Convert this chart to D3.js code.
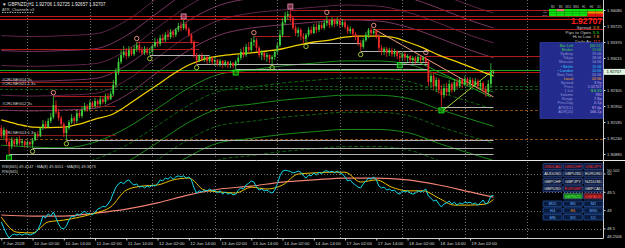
<!DOCTYPE html>
<html>
<head>
<meta charset="utf-8">
<script src="https://cdn.jsdelivr.net/npm/d3@7"></script>
<style>
  html, body { margin: 0; padding: 0; background: #000; }
  svg { display: block; font-family: "Liberation Sans", Arial, sans-serif; }
</style>
</head>
<body>
<div id="chart"></div>
<script>
// ---------- data ----------
const titleText = "\u25BC GBPNZD,H1  1.92706 1.92725 1.92657 1.92707";
const subTitleText = "ATR_Channels v3";
const rsiTitleText = "RSI(665) 49.4147  ~MA(8) 49.3051  ~MA(85) 49.3673";
const rsiSubText = "RSI(665)";

const timeLabels = ["7 Jun 2019", "10 Jun 02:00", "10 Jun 14:00", "11 Jun 02:00", "11 Jun 14:00",
  "12 Jun 02:00", "12 Jun 14:00", "13 Jun 02:00", "13 Jun 14:00", "14 Jun 02:00", "14 Jun 14:00",
  "17 Jun 02:00", "17 Jun 14:00", "18 Jun 02:00", "18 Jun 14:00", "19 Jun 02:00"];
const timeLabelBars = [0, 12, 24, 36, 48, 60, 72, 84, 96, 108, 120, 132, 144, 156, 168, 180];
const midnightBars = [10, 34, 58, 82, 106, 130, 154, 178, 202];

const priceTicks = [1.94080, 1.93725, 1.93370, 1.93015, 1.92660, 1.92305, 1.91950, 1.91595, 1.91240, 1.90885];
const rsiTicks = [50.102, 50, 49.5, 49, 48.5, 48.2506];
const rsiTickLabels = ["50.102", "50", "49.5", "49", "48.5", "48.2506"];
const rsiGrid = [50, 49.5, 49, 48.5];

const opens = [1.9146,1.9130,1.9142,1.9115,1.9106,1.9119,1.9110,1.9122,1.9113,1.9117,
1.9108,1.9115,1.9110,1.9119,1.9133,1.9128,1.9146,1.9155,1.9148,1.9162,
1.9170,1.9197,1.9182,1.9168,1.9155,1.9135,1.9146,1.9159,1.9168,1.9162,
1.9179,1.9173,1.9186,1.9195,1.9188,1.9202,1.9195,1.9206,1.9199,1.9210,
1.9204,1.9215,1.9210,1.9222,1.9242,1.9270,1.9293,1.9308,1.9315,1.9306,
1.9319,1.9310,1.9322,1.9330,1.9319,1.9313,1.9322,1.9313,1.9315,1.9328,
1.9337,1.9333,1.9346,1.9341,1.9353,1.9348,1.9359,1.9353,1.9364,1.9372,
1.9368,1.9377,1.9366,1.9353,1.9337,1.9308,1.9297,1.9306,1.9299,1.9304,
1.9295,1.9302,1.9293,1.9297,1.9288,1.9295,1.9288,1.9293,1.9286,1.9290,
1.9284,1.9293,1.9302,1.9315,1.9308,1.9326,1.9319,1.9337,1.9341,1.9324,
1.9308,1.9313,1.9304,1.9308,1.9299,1.9304,1.9315,1.9330,1.9353,1.9381,
1.9395,1.9399,1.9390,1.9368,1.9357,1.9364,1.9350,1.9344,1.9353,1.9364,
1.9357,1.9370,1.9364,1.9375,1.9368,1.9379,1.9384,1.9375,1.9386,1.9377,
1.9384,1.9375,1.9381,1.9370,1.9361,1.9366,1.9355,1.9348,1.9335,1.9326,
1.9341,1.9353,1.9364,1.9357,1.9361,1.9350,1.9324,1.9315,1.9322,1.9313,
1.9319,1.9310,1.9317,1.9306,1.9302,1.9310,1.9302,1.9306,1.9297,1.9302,
1.9295,1.9304,1.9297,1.9302,1.9293,1.9248,1.9262,1.9239,1.9253,1.9230,
1.9219,1.9235,1.9226,1.9244,1.9230,1.9248,1.9239,1.9253,1.9244,1.9255,
1.9246,1.9253,1.9242,1.9250,1.9239,1.9246,1.9233,1.9226,1.9244,1.92706];

const highs = [1.9153,1.9148,1.9144,1.9124,1.9126,1.9124,1.9126,1.9128,1.9122,1.9119,
1.9119,1.9117,1.9124,1.9137,1.9139,1.9148,1.9164,1.9162,1.9168,1.9179,
1.9217,1.9208,1.9190,1.9173,1.9159,1.9150,1.9164,1.9177,1.9173,1.9186,
1.9186,1.9193,1.9202,1.9199,1.9208,1.9206,1.9213,1.9210,1.9217,1.9215,
1.9222,1.9224,1.9228,1.9253,1.9279,1.9302,1.9319,1.9328,1.9324,1.9328,
1.9326,1.9330,1.9337,1.9335,1.9326,1.9328,1.9326,1.9324,1.9333,1.9346,
1.9344,1.9353,1.9355,1.9359,1.9364,1.9366,1.9364,1.9368,1.9379,1.9381,
1.9386,1.9381,1.9370,1.9357,1.9341,1.9313,1.9310,1.9313,1.9308,1.9306,
1.9306,1.9304,1.9304,1.9299,1.9299,1.9297,1.9297,1.9295,1.9295,1.9293,
1.9297,1.9308,1.9322,1.9326,1.9333,1.9337,1.9346,1.9350,1.9346,1.9328,
1.9319,1.9315,1.9313,1.9310,1.9308,1.9319,1.9337,1.9364,1.9390,1.9404,
1.9406,1.9408,1.9395,1.9375,1.9370,1.9368,1.9357,1.9357,1.9370,1.9372,
1.9377,1.9379,1.9381,1.9381,1.9386,1.9395,1.9388,1.9392,1.9390,1.9392,
1.9388,1.9388,1.9386,1.9375,1.9372,1.9368,1.9359,1.9353,1.9341,1.9346,
1.9359,1.9368,1.9370,1.9366,1.9364,1.9355,1.9330,1.9326,1.9326,1.9324,
1.9324,1.9322,1.9319,1.9313,1.9315,1.9315,1.9310,1.9308,1.9306,1.9306,
1.9308,1.9308,1.9306,1.9306,1.9297,1.9268,1.9270,1.9259,1.9257,1.9242,
1.9244,1.9246,1.9253,1.9248,1.9255,1.9257,1.9259,1.9257,1.9262,1.9259,
1.9259,1.9257,1.9257,1.9255,1.9253,1.9250,1.9239,1.9253,1.9290,1.92725];

const lows = [1.9124,1.9119,1.9108,1.9088,1.9099,1.9104,1.9106,1.9108,1.9104,1.9102,
1.9104,1.9106,1.9102,1.9117,1.9124,1.9126,1.9142,1.9144,1.9146,1.9157,
1.9166,1.9177,1.9162,1.9150,1.9126,1.9119,1.9142,1.9155,1.9155,1.9157,
1.9168,1.9168,1.9182,1.9182,1.9184,1.9190,1.9190,1.9193,1.9195,1.9199,
1.9199,1.9206,1.9208,1.9217,1.9235,1.9264,1.9288,1.9302,1.9299,1.9302,
1.9306,1.9306,1.9315,1.9313,1.9308,1.9308,1.9308,1.9308,1.9310,1.9324,
1.9326,1.9328,1.9335,1.9337,1.9341,1.9344,1.9346,1.9348,1.9359,1.9361,
1.9364,1.9361,1.9348,1.9333,1.9302,1.9288,1.9293,1.9295,1.9293,1.9288,
1.9290,1.9286,1.9284,1.9284,1.9282,1.9279,1.9282,1.9279,1.9279,1.9279,
1.9277,1.9288,1.9297,1.9302,1.9304,1.9315,1.9315,1.9328,1.9317,1.9302,
1.9297,1.9297,1.9293,1.9290,1.9288,1.9297,1.9310,1.9326,1.9348,1.9375,
1.9386,1.9381,1.9364,1.9350,1.9348,1.9341,1.9333,1.9335,1.9348,1.9353,
1.9355,1.9357,1.9359,1.9364,1.9364,1.9372,1.9368,1.9370,1.9370,1.9372,
1.9368,1.9370,1.9366,1.9355,1.9355,1.9348,1.9341,1.9328,1.9317,1.9322,
1.9337,1.9346,1.9350,1.9353,1.9344,1.9315,1.9308,1.9308,1.9304,1.9306,
1.9304,1.9304,1.9299,1.9293,1.9297,1.9295,1.9293,1.9290,1.9288,1.9288,
1.9290,1.9290,1.9293,1.9288,1.9239,1.9235,1.9230,1.9226,1.9222,1.9193,
1.9213,1.9217,1.9219,1.9224,1.9226,1.9233,1.9235,1.9235,1.9239,1.9239,
1.9237,1.9235,1.9237,1.9233,1.9230,1.9224,1.9215,1.9217,1.9235,1.92657];

const closes = [1.9130,1.9142,1.9115,1.9106,1.9119,1.9110,1.9122,1.9113,1.9117,1.9108,
1.9115,1.9110,1.9119,1.9133,1.9128,1.9146,1.9155,1.9148,1.9162,1.9170,
1.9197,1.9182,1.9168,1.9155,1.9135,1.9146,1.9159,1.9168,1.9162,1.9179,
1.9173,1.9186,1.9195,1.9188,1.9202,1.9195,1.9206,1.9199,1.9210,1.9204,
1.9215,1.9210,1.9222,1.9242,1.9270,1.9293,1.9308,1.9315,1.9306,1.9319,
1.9310,1.9322,1.9330,1.9319,1.9313,1.9322,1.9313,1.9315,1.9328,1.9337,
1.9333,1.9346,1.9341,1.9353,1.9348,1.9359,1.9353,1.9364,1.9372,1.9368,
1.9377,1.9366,1.9353,1.9337,1.9308,1.9297,1.9306,1.9299,1.9304,1.9295,
1.9302,1.9293,1.9297,1.9288,1.9295,1.9288,1.9293,1.9286,1.9290,1.9284,
1.9293,1.9302,1.9315,1.9308,1.9326,1.9319,1.9337,1.9341,1.9324,1.9308,
1.9313,1.9304,1.9308,1.9299,1.9304,1.9315,1.9330,1.9353,1.9381,1.9395,
1.9399,1.9390,1.9368,1.9357,1.9364,1.9350,1.9344,1.9353,1.9364,1.9357,
1.9370,1.9364,1.9375,1.9368,1.9379,1.9384,1.9375,1.9386,1.9377,1.9384,
1.9375,1.9381,1.9370,1.9361,1.9366,1.9355,1.9348,1.9335,1.9326,1.9341,
1.9353,1.9364,1.9357,1.9361,1.9350,1.9324,1.9315,1.9322,1.9313,1.9319,
1.9310,1.9317,1.9306,1.9302,1.9310,1.9302,1.9306,1.9297,1.9302,1.9295,
1.9304,1.9297,1.9302,1.9293,1.9248,1.9262,1.9239,1.9253,1.9230,1.9219,
1.9235,1.9226,1.9244,1.9230,1.9248,1.9239,1.9253,1.9244,1.9255,1.9246,
1.9253,1.9242,1.9250,1.9239,1.9246,1.9233,1.9226,1.9244,1.9270,1.92707];

// moving average on price, sampled every 6 bars
const maBars = [0,6,12,18,24,30,36,42,48,54,60,66,72,78,84,90,96,102,108,114,120,126,132,138,144,150,156,162,168,174,180,186,189];
const priceMA = [1.9164,1.9155,1.9148,1.9147,1.9148,1.9155,1.9166,1.9175,1.9195,1.9219,1.9242,1.9266,1.9286,1.9299,1.9306,1.9310,1.9313,1.9317,1.9322,1.9330,1.9337,1.9341,1.9348,1.9350,1.9350,1.9348,1.9337,1.9324,1.9308,1.9295,1.9282,1.9268,1.9262];

// channel bands, sampled every 12 bars
const bandBars = [0,12,24,36,48,60,72,84,96,108,120,132,144,156,168,180,189];
const upperBandBase = [1.9186,1.9184,1.9186,1.9190,1.9219,1.9270,1.9319,1.9353,1.9368,1.9375,1.9381,1.9386,1.9384,1.9370,1.9346,1.9319,1.9302];
const lowerBandBase = [1.9108,1.9104,1.9102,1.9115,1.9146,1.9190,1.9235,1.9266,1.9275,1.9284,1.9290,1.9295,1.9295,1.9288,1.9264,1.9242,1.9226];
const upperBandStep = 0.0033;
const lowerBandStep = 0.0038;
const bandCount = 6;

// swing points (end = last bar the level is drawn to; "edge" runs it to the price scale)
const swingHighBars = [20, 52, 70, 97, 111, 125, 143, 163];
const swingHighSquare = [false, false, true, false, true, false, false, false];
const swingHighEnd = [43, 76, null, 111, "edge", "edge", "edge", "edge"];
const swingLowBars = [3, 12, 25, 57, 75, 90, 104, 117, 138, 153, 169];
const swingLowSquare = [true, false, false, false, false, true, false, false, false, true, true];
const swingLowEnd = [189, 189, 189, 80, 164, 164, 164, 138, 164, 164, 189];

// horizontal levels
const resistanceLevels = [1.9395, 1.9388];
const partialLevel = {price: 1.9321, from: 0, to: 76};
const pivotLevels = [1.9186, 1.9122];
const greenDashLevels = [1.9239, 1.9232];
const askPrice = 1.92746;
const bidPrice = 1.92707;

// trend lines [bar, price] -> [bar, price]
const trendSalmon = [[143, 1.9366], [189, 1.9215]];
const trendLime = [[169, 1.9182], [189, 1.9275]];
const trendGreen = [[152, 1.9315], [188, 1.9215]];

// object labels on the left
const objectLabels = ["#CRLNEG14 3s", "#CRLNEG21 1.3s", "#CRLNEG12 3s", "#CRLNEG13 1.3s"];
const objectLabelPrices = [1.9248, 1.9239, 1.9195, 1.9130];

// RSI pane
const rsi = [48.69,48.52,48.36,48.25,48.33,48.36,48.33,48.36,48.33,48.36,
48.36,48.33,48.36,48.39,48.47,48.63,48.85,48.80,48.91,48.85,
48.96,48.80,48.63,48.52,48.50,48.58,48.74,48.85,48.82,48.91,
48.88,48.93,48.99,48.91,48.93,48.88,48.96,49.04,49.07,49.12,
49.10,49.18,49.29,49.48,49.64,49.73,49.78,49.73,49.81,49.84,
49.75,49.70,49.73,49.64,49.67,49.62,49.67,49.64,49.70,49.67,
49.73,49.84,49.81,49.89,49.86,49.92,49.86,49.92,49.95,49.92,
49.95,49.89,49.92,49.84,49.62,49.48,49.54,49.51,49.56,49.54,
49.59,49.54,49.56,49.48,49.54,49.45,49.51,49.45,49.48,49.43,
49.45,49.56,49.62,49.59,49.70,49.75,49.81,49.78,49.64,49.56,
49.59,49.54,49.56,49.51,49.48,49.56,49.73,49.95,50.08,50.102,
50.09,50.07,50.03,50.05,50.08,50.05,49.95,49.89,49.97,49.95,
50.03,49.97,50.05,50.00,50.08,50.09,50.05,50.08,50.03,50.08,
50.03,50.00,49.92,49.81,49.84,49.75,49.70,49.64,49.62,49.73,
49.81,49.89,49.86,49.92,49.84,49.67,49.62,49.64,49.56,49.59,
49.54,49.56,49.48,49.45,49.54,49.51,49.54,49.48,49.45,49.48,
49.54,49.51,49.54,49.59,49.40,49.34,49.26,49.29,49.18,49.10,
49.18,49.21,49.26,49.18,49.23,49.15,49.21,49.18,49.23,49.21,
49.23,49.18,49.21,49.15,49.21,49.29,49.18,49.23,49.40,49.4147];
const rsiFastMA = [48.82,48.41,48.39,48.69,48.74,48.82,48.93,49.10,49.56,49.67,49.70,49.84,49.89,49.56,49.51,49.48,49.64,49.59,49.70,50.00,50.03,50.05,50.05,49.78,49.84,49.64,49.54,49.54,49.34,49.15,49.15,49.18,49.3051];
const rsiSlowMA = [48.88,48.85,48.85,48.93,49.04,49.21,49.43,49.59,49.67,49.78,49.84,49.89,49.89,49.84,49.70,49.51,49.3673];

// info panel
const tfHeader = ["M1", "M5", "M15", "M30", "H1", "H4", "D1"];
const signalRows = ["MA", "RSI", "STO"];
const signalState = [
  ["up", "dn", "up", "up", "up", "up", "up"],
  ["up", "up", "up", "up", "up", "mid", "mid"],
  ["up", "up", "up", "up", "up", "dn", "dn"]];
const bigPrice = "1.92707";
const statLabels = ["Spread", "Pips to Open", "Hi to Low", "Daily Av"];
const statValues = ["3.9", "5.5", "7.8", "117"];
const panelLabels = ["Bar Left", "Broker", "Sydney", "Tokyo", "Moscow", "\u2022 Berlin", "\u2022 London",
  "New York", "Local", "Spread", "Price", "1 Lot", "Volume", "Range", "Prev.Day", "ATR(D1)", "ADR(20)"];
const panelValues = ["[00:51]", "12:06", "19:06", "18:06", "14:06", "11:06", "10:06",
  "05:06", "02:06", "3.9p", "1.92707", "$ 6.55", "780", "7.8p", "0.1p", "87.6p", "166.1p"];
const pairButtons = ["USDCAD", "USDCHF", "USDJPY", "AUDUSD", "GBPUSD", "EURUSD",
  "GBPCHF", "GBPJPY", "NZDUSD", "GBPUSD", "EURGBP", "GBPCAD", "", "GBPNZD", "GBPAUD"];
const pairState = ["neg", "neg", "neg", "", "", "", "", "", "", "", "neg", "", "none", "cur", "negbg"];
const tfButtons = ["M15", "M5", "M1", "H4", "H1", "M30", "MN", "W1", "D1"];
const currentTf = "H1";

// ---------- drawing ----------
const W = 625, H = 248;
const plotRight = 603;
const svg = d3.select("#chart").append("svg")
  .attr("width", W).attr("height", H)
  .style("background", "#000");

const x = d3.scaleLinear().domain([0, 189]).range([1.3, 493.5]);
const y = d3.scaleLinear().domain([1.90885, 1.94080]).range([154, 10]);
const yr = d3.scaleLinear().domain([48.2506, 50.102]).range([238, 170.3]);

const defs = svg.append("defs");
defs.append("clipPath").attr("id", "clipMain").append("rect")
  .attr("x", 0).attr("y", 0).attr("width", plotRight).attr("height", 160);
defs.append("clipPath").attr("id", "clipRsi").append("rect")
  .attr("x", 0).attr("y", 162).attr("width", plotRight).attr("height", 76);

const main = svg.append("g").attr("clip-path", "url(#clipMain)");
const sub = svg.append("g").attr("clip-path", "url(#clipRsi)");

// vertical grid
[[0, 159], [162, 238]].forEach(([a, b]) => {
  svg.append("g").selectAll("line").data(midnightBars).join("line")
    .attr("x1", d => Math.round(x(d)) + 0.5).attr("x2", d => Math.round(x(d)) + 0.5)
    .attr("y1", a).attr("y2", b)
    .attr("stroke", "#6e6e6e").attr("stroke-width", 1).attr("stroke-dasharray", "1,2");
});
sub.selectAll("line.hg").data(rsiGrid).join("line")
  .attr("x1", 0).attr("x2", plotRight)
  .attr("y1", d => Math.round(yr(d)) + 0.5).attr("y2", d => Math.round(yr(d)) + 0.5)
  .attr("stroke", "#6e6e6e").attr("stroke-dasharray", "1,2");

const hline = (g, price, x1, x2, color, dash, width) => g.append("line")
  .attr("x1", x1).attr("x2", x2)
  .attr("y1", Math.round(y(price)) + 0.5).attr("y2", Math.round(y(price)) + 0.5)
  .attr("stroke", color).attr("stroke-width", width || 1)
  .attr("stroke-dasharray", dash || null);

// pivot style dashed levels
pivotLevels.forEach(p => hline(main, p, 0, plotRight, "#8a4a10", "3,2"));
greenDashLevels.forEach(p => hline(main, p, 0, plotRight, "#0f5a0f", "3,2"));

// channel bands
const bandLine = d3.line().x(d => x(d[0])).y(d => y(d[1])).curve(d3.curveMonotoneX);
for (let k = 0; k < bandCount; k++) {
  main.append("path")
    .attr("d", bandLine(bandBars.map((b, j) => [b, upperBandBase[j] + k * upperBandStep])))
    .attr("fill", "none").attr("stroke", k % 2 ? "#5e2448" : "#7a3562").attr("stroke-width", 1);
  main.append("path")
    .attr("d", bandLine(bandBars.map((b, j) => [b, lowerBandBase[j] - k * lowerBandStep])))
    .attr("fill", "none").attr("stroke", k % 2 ? "#116011" : "#1a8a1a").attr("stroke-width", 1)
    .attr("stroke-dasharray", k % 2 ? "4,2" : null);
}

// resistance / swing levels
resistanceLevels.forEach(p => hline(main, p, 0, plotRight, "#c81414"));
hline(main, partialLevel.price, x(partialLevel.from), x(partialLevel.to), "#b01818");
swingHighBars.forEach((b, i) => {
  const end = swingHighEnd[i];
  if (end !== null) hline(main, highs[b], x(b), end === "edge" ? plotRight : x(end), "#b01a1a");
});
swingLowBars.forEach((b, i) => hline(main, lows[b], x(b), x(swingLowEnd[i]), "#b4b4b4"));

// bid / ask
hline(main, askPrice, 0, plotRight, "#1faa1f");
hline(main, bidPrice, 0, plotRight, "#c01010");

// left object labels with short red lines
objectLabels.forEach((t, i) => {
  hline(main, objectLabelPrices[i], 0, x(44), "#8a1a1a");
  main.append("text").attr("x", 2).attr("y", y(objectLabelPrices[i]) - 1)
    .attr("font-size", 4.2).attr("fill", "#d8d8d8").text(t);
});

// moving average
main.append("path")
  .attr("d", bandLine(maBars.map((b, j) => [b, priceMA[j]])))
  .attr("fill", "none").attr("stroke", "#f2d000").attr("stroke-width", 1.3);

// trend lines
[[trendSalmon, "#f0a080"], [trendLime, "#a8d830"], [trendGreen, "#22a822"]].forEach(([t, c]) => {
  main.append("line")
    .attr("x1", x(t[0][0])).attr("y1", y(t[0][1]))
    .attr("x2", x(t[1][0])).attr("y2", y(t[1][1]))
    .attr("stroke", c).attr("stroke-width", 1);
});

// candles
const bars = d3.range(closes.length);
const upColor = "#3ed23e", downColor = "#f02828";
const cg = main.append("g");
cg.selectAll("line").data(bars).join("line")
  .attr("x1", i => x(i)).attr("x2", i => x(i))
  .attr("y1", i => y(highs[i])).attr("y2", i => y(lows[i]))
  .attr("stroke", i => closes[i] >= opens[i] ? upColor : downColor)
  .attr("stroke-width", 0.8);
cg.selectAll("rect").data(bars).join("rect")
  .attr("x", i => x(i) - 0.9).attr("width", 1.8)
  .attr("y", i => y(Math.max(opens[i], closes[i])))
  .attr("height", i => Math.max(0.7, Math.abs(y(opens[i]) - y(closes[i]))))
  .attr("fill", i => closes[i] >= opens[i] ? upColor : downColor);

// swing markers
swingHighBars.forEach((b, i) => {
  const cx = x(b), cy = y(highs[b]) - 3.5;
  if (swingHighSquare[i]) {
    main.append("rect").attr("x", cx - 2.5).attr("y", cy - 2.5).attr("width", 5).attr("height", 5)
      .attr("fill", "rgba(200,90,130,0.55)").attr("stroke", "#f090b0").attr("stroke-width", 0.8);
  } else {
    main.append("circle").attr("cx", cx).attr("cy", cy).attr("r", 2.2)
      .attr("fill", "none").attr("stroke", "#ff9a8a").attr("stroke-width", 0.9);
  }
});
swingLowBars.forEach((b, i) => {
  const cx = x(b), cy = y(lows[b]) + 3.5;
  if (swingLowSquare[i]) {
    main.append("rect").attr("x", cx - 2.5).attr("y", cy - 2.5).attr("width", 5).attr("height", 5)
      .attr("fill", "rgba(0,150,0,0.6)").attr("stroke", "#22ff22").attr("stroke-width", 0.8);
  } else {
    main.append("circle").attr("cx", cx).attr("cy", cy).attr("r", 2.2)
      .attr("fill", "none").attr("stroke", "#a8d838").attr("stroke-width", 0.9);
  }
});

// titles
svg.append("text").attr("x", 2).attr("y", 6).attr("font-size", 4.6).attr("fill", "#e8e8e8").text(titleText);
svg.append("text").attr("x", 2).attr("y", 10.5).attr("font-size", 4).attr("fill", "#c8c8c8").text(subTitleText);
svg.append("line").attr("x1", 2).attr("x2", 34).attr("y1", 12.5).attr("y2", 12.5)
  .attr("stroke", "#a0a0a0").attr("stroke-dasharray", "1.5,1");

// ---------- RSI pane ----------
const rline = d3.line().x((d, i) => x(i)).y(d => yr(d));
const rsmooth = d3.line().x(d => x(d[0])).y(d => yr(d[1])).curve(d3.curveMonotoneX);
sub.append("path").attr("d", rsmooth(bandBars.map((b, j) => [b, rsiSlowMA[j]])))
  .attr("fill", "none").attr("stroke", "#f08070").attr("stroke-width", 1.2);
sub.append("path").attr("d", rsmooth(maBars.map((b, j) => [b, rsiFastMA[j]])))
  .attr("fill", "none").attr("stroke", "#f0c000").attr("stroke-width", 1);
sub.append("path").attr("d", rline(rsi))
  .attr("fill", "none").attr("stroke", "#10d8e8").attr("stroke-width", 1);

svg.append("text").attr("x", 2).attr("y", 168).attr("font-size", 4).attr("fill", "#d8d8d8").text(rsiTitleText);
svg.append("text").attr("x", 2).attr("y", 173).attr("font-size", 4).attr("fill", "#d8d8d8").text(rsiSubText);

// ---------- frame and axes ----------
svg.append("line").attr("x1", 0).attr("x2", W).attr("y1", 160.5).attr("y2", 160.5)
  .attr("stroke", "#e8e8e8").attr("stroke-width", 1);
svg.append("line").attr("x1", plotRight + 0.5).attr("x2", plotRight + 0.5).attr("y1", 0).attr("y2", 238.5)
  .attr("stroke", "#d0d0d0");
svg.append("line").attr("x1", 0).attr("x2", plotRight + 0.5).attr("y1", 238.5).attr("y2", 238.5)
  .attr("stroke", "#d0d0d0");

// the price tag hides any axis label it would cover
const tagY = y(bidPrice);
const shownTicks = priceTicks.filter(p => Math.abs(y(p) - tagY) > 6);
const pAxis = svg.append("g").attr("transform", `translate(${plotRight + 0.5},0)`)
  .call(d3.axisRight(y).tickValues(shownTicks).tickFormat(d3.format(".5f")).tickSize(2).tickPadding(1.5));
pAxis.select(".domain").remove();
pAxis.selectAll("line").attr("stroke", "#d0d0d0");
pAxis.selectAll("text").attr("font-size", 4.1).attr("fill", "#d8d8d8").attr("font-family", "Liberation Sans");

const rAxis = svg.append("g").attr("transform", `translate(${plotRight + 0.5},0)`);
rAxis.selectAll("text").data(rsiTicks).join("text")
  .attr("x", 3.5).attr("y", d => Math.min(237, Math.max(165, yr(d))) + 1.4)
  .attr("font-size", 4.1).attr("fill", "#d8d8d8").text((d, i) => rsiTickLabels[i]);
rAxis.selectAll("line").data(rsiGrid).join("line")
  .attr("x1", 0).attr("x2", 2).attr("y1", d => yr(d)).attr("y2", d => yr(d)).attr("stroke", "#d0d0d0");

const tAxis = svg.append("g").attr("transform", "translate(0,238.5)")
  .call(d3.axisBottom(x).tickValues(timeLabelBars).tickFormat((d, i) => timeLabels[i]).tickSize(2).tickPadding(1));
tAxis.select(".domain").remove();
tAxis.selectAll("line").attr("stroke", "#d0d0d0");
tAxis.selectAll("text").attr("font-size", 4.4).attr("fill", "#d8d8d8")
  .attr("text-anchor", "start").attr("dx", 1).attr("font-family", "Liberation Sans");

// current price tag
svg.append("rect").attr("x", plotRight + 1).attr("y", tagY - 3).attr("width", 21).attr("height", 6)
  .attr("fill", "#dff5df");
svg.append("text").attr("x", plotRight + 3.5).attr("y", tagY + 1.5).attr("font-size", 4.1)
  .attr("fill", "#000").text(d3.format(".5f")(bidPrice));

// ---------- info panel ----------
const ip = svg.append("g");
const tfX = d3.scaleBand().domain(tfHeader).range([549, 603]);
ip.selectAll("text.tf").data(tfHeader).join("text")
  .attr("x", d => tfX(d) + tfX.bandwidth() / 2).attr("y", 7.5)
  .attr("text-anchor", "middle").attr("font-size", 2.8).attr("fill", "#c0c0c0").text(d => d);
const stateColor = {up: "#10e010", dn: "#e87878", mid: "#ff8c00"};
signalRows.forEach((r, ri) => {
  ip.append("text").attr("x", 547).attr("y", 11 + ri * 2.4).attr("text-anchor", "end")
    .attr("font-size", 2.4).attr("fill", "#b0b0b0").text(r);
  ip.selectAll(null).data(signalState[ri]).join("rect")
    .attr("x", (d, i) => tfX(tfHeader[i])).attr("width", tfX.bandwidth())
    .attr("y", 9 + ri * 2.4).attr("height", 2.4)
    .attr("fill", d => ri === 2 && d === "dn" ? "#e01010" : stateColor[d]);
});
ip.append("text").attr("x", 602).attr("y", 24).attr("text-anchor", "end")
  .attr("font-size", 8.6).attr("font-weight", "bold").attr("fill", "#ff1e1e").text(bigPrice);
statLabels.forEach((l, i) => {
  ip.append("text").attr("x", 591).attr("y", 29 + i * 4.6).attr("text-anchor", "end")
    .attr("font-size", 4.4).attr("fill", "#c8c8c8").text(l);
  ip.append("text").attr("x", 593).attr("y", 29 + i * 4.6)
    .attr("font-size", 4.4).attr("fill", i === 1 ? "#30e030" : (i === 3 ? "#ff5020" : "#ffa020")).text(statValues[i]);
});
ip.append("rect").attr("x", 540).attr("y", 42.5).attr("width", 63).attr("height", 76)
  .attr("fill", "#232c8c").attr("stroke", "#3a46b4").attr("stroke-width", 0.6);
const rowColor = i => i < 2 ? "#3cd43c" : (i === 5 || i === 6) ? "#34c4ff" : i === 8 ? "#ffa826" : "#8e92d8";
const valColor = i => i < 2 ? "#3cd43c" : (i === 5 || i === 6) ? "#34c4ff" : i === 8 ? "#ffa826" : i === 11 ? "#40e040" : i > 8 ? "#c8a8f0" : "#9ea2e0";
panelLabels.forEach((l, i) => {
  ip.append("text").attr("x", 573).attr("y", 47 + i * 4.1).attr("text-anchor", "end")
    .attr("font-size", 3.8).attr("fill", rowColor(i)).text(l);
  ip.append("text").attr("x", 601.5).attr("y", 47 + i * 4.1).attr("text-anchor", "end")
    .attr("font-size", 3.8).attr("fill", valColor(i)).text(panelValues[i]);
});

// pair buttons
const bx = d3.scaleBand().domain([0, 1, 2]).range([543, 603]).paddingInner(0.06);
pairButtons.forEach((p, i) => {
  if (pairState[i] === "none") return;
  const bxx = bx(i % 3), byy = 163.5 + Math.floor(i / 3) * 7.4;
  const st = pairState[i];
  ip.append("rect").attr("x", bxx).attr("y", byy).attr("width", bx.bandwidth()).attr("height", 6)
    .attr("rx", 0.6)
    .attr("fill", st === "cur" ? "#1f7a1f" : st === "negbg" ? "#7a1010" : "#0c1838")
    .attr("stroke", "#3a5ab0").attr("stroke-width", 0.6);
  ip.append("text").attr("x", bxx + bx.bandwidth() / 2).attr("y", byy + 4.4)
    .attr("text-anchor", "middle").attr("font-size", 4)
    .attr("fill", st === "neg" ? "#ff3030" : st === "cur" ? "#40ff40" : st === "negbg" ? "#ff5050" : "#e8e8e8")
    .text(p);
});
tfButtons.forEach((t, i) => {
  const bxx = bx(i % 3), byy = 201 + Math.floor(i / 3) * 6.8;
  ip.append("rect").attr("x", bxx).attr("y", byy).attr("width", bx.bandwidth()).attr("height", 5.4)
    .attr("rx", 0.6).attr("fill", "#0a1a3c").attr("stroke", "#2a64c8").attr("stroke-width", 0.6);
  ip.append("text").attr("x", bxx + bx.bandwidth() / 2).attr("y", byy + 4)
    .attr("text-anchor", "middle").attr("font-size", 3.9)
    .attr("fill", t === currentTf ? "#ff9a20" : "#6ab4ff").text(t);
});
</script>
</body>
</html>
